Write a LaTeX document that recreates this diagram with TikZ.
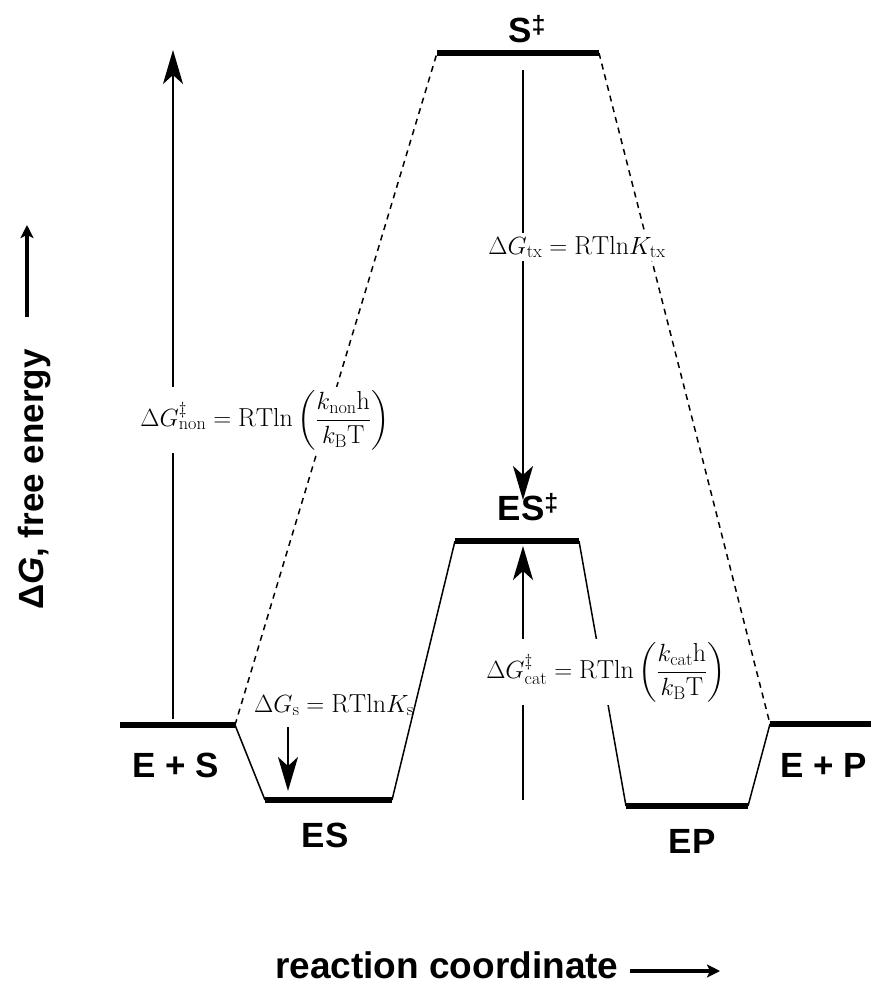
\documentclass[tikz,border=0pt]{standalone}
\usepackage{amsmath}
\usepackage{fontspec}
\newfontfamily\lab{Liberation Sans}
\usetikzlibrary{arrows.meta}
\newcommand{\dg}{\raisebox{9pt}{\fontsize{25}{26}\selectfont ‡}}
\begin{document}
\begin{tikzpicture}[x=1pt,y=-1pt,
  level/.style={line width=6pt},
  conn/.style={line width=1.5pt},
  dconn/.style={line width=1.5pt,dash pattern=on 6pt off 5pt},
  garrow/.style={line width=2pt,-{Stealth[length=34pt,width=20pt,inset=9pt]}},
  axarrow/.style={line width=3.5pt,-{Stealth[length=13pt,width=13pt,inset=3pt]}},
  lvl/.style={font=\lab\bfseries\fontsize{35}{40}\selectfont, anchor=base, inner sep=0pt},
  axl/.style={font=\lab\bfseries\fontsize{35}{40}\selectfont, inner sep=0pt},
  eq/.style={fill=white, inner sep=3pt, font=\fontsize{26}{30}\selectfont},
]
\useasboundingbox (0,0) rectangle (871,985);
% level end points
\coordinate (esA) at (120,725);  \coordinate (esB) at (235,725);
\coordinate (cA) at (265,800);   \coordinate (cB) at (392,800);
\coordinate (tA) at (437,53);    \coordinate (tB) at (599,53);
\coordinate (xA) at (455,541);   \coordinate (xB) at (579,541);
\coordinate (pA) at (626,806);   \coordinate (pB) at (748,806);
\coordinate (qA) at (770,724);   \coordinate (qB) at (871,724);
% arrow end points
\coordinate (a1s) at (173,719); \coordinate (a1e) at (173,50);
\coordinate (a2s) at (523,70);  \coordinate (a2e) at (523,500);
\coordinate (a3s) at (523,800); \coordinate (a3e) at (523,546);
\coordinate (a4s) at (288,727); \coordinate (a4e) at (288,791);
% levels
\draw[level] (esA) -- (esB);
\draw[level] (cA) -- (cB);
\draw[level] (tA) -- (tB);
\draw[level] (xA) -- (xB);
\draw[level] (pA) -- (pB);
\draw[level] (qA) -- (qB);
% connectors
\draw[conn] (esB) -- (cA);
\draw[conn] (cB) -- (xA);
\draw[conn] (xB) -- (pA);
\draw[conn] (pB) -- (qA);
\draw[dconn] (esB) -- (tA);
\draw[dconn] (tB) -- (qA);
% arrows
\draw[garrow] (a1s) -- (a1e);
\draw[garrow] (a2s) -- (a2e);
\draw[garrow] (a3s) -- (a3e);
\draw[garrow] (a4s) -- (a4e);
% equations
\node[eq] (eqnon) at (265,420) {$\Delta G^{\ddagger}_{\mathrm{non}} = \mathrm{RTln}\left(\dfrac{k_{\mathrm{non}}\mathrm{h}}{k_{\mathrm{B}}\mathrm{T}}\right)$};
\node[eq] (eqtx) at (577,247) {$\Delta G_{\mathrm{tx}} = \mathrm{RTln}K_{\mathrm{tx}}$};
\node[eq] (eqcat) at (606,672) {$\Delta G^{\ddagger}_{\mathrm{cat}} = \mathrm{RTln}\left(\dfrac{k_{\mathrm{cat}}\mathrm{h}}{k_{\mathrm{B}}\mathrm{T}}\right)$};
\node[eq, fill=none] (eqs) at (334,705) {$\Delta G_{\mathrm{s}} = \mathrm{RTln}K_{\mathrm{s}}$};
% level labels
\node[lvl] (lTS) at (527,42) {S\dg};
\node[lvl] (lET) at (528,520) {ES\dg};
\node[lvl] (lES) at (176,777) {E + S};
\node[lvl] (lC) at (325,847) {ES};
\node[lvl] (lP) at (692,853) {EP};
\node[lvl] (lEP) at (824,777) {E + P};
% axes
\node[axl, rotate=90, anchor=base west] (ylab) at (43,610) {Δ{\itshape G}, free energy};
\coordinate (y1) at (27,317); \coordinate (y2) at (27,225);
\draw[axarrow] (y1) -- (y2);
\node[axl, font=\lab\bfseries\fontsize{37}{40}\selectfont, anchor=base west] (xlab) at (275,978) {reaction coordinate};
\coordinate (x1) at (630,971); \coordinate (x2) at (720,971);
\draw[axarrow] (x1) -- (x2);
\end{tikzpicture}
\end{document}
